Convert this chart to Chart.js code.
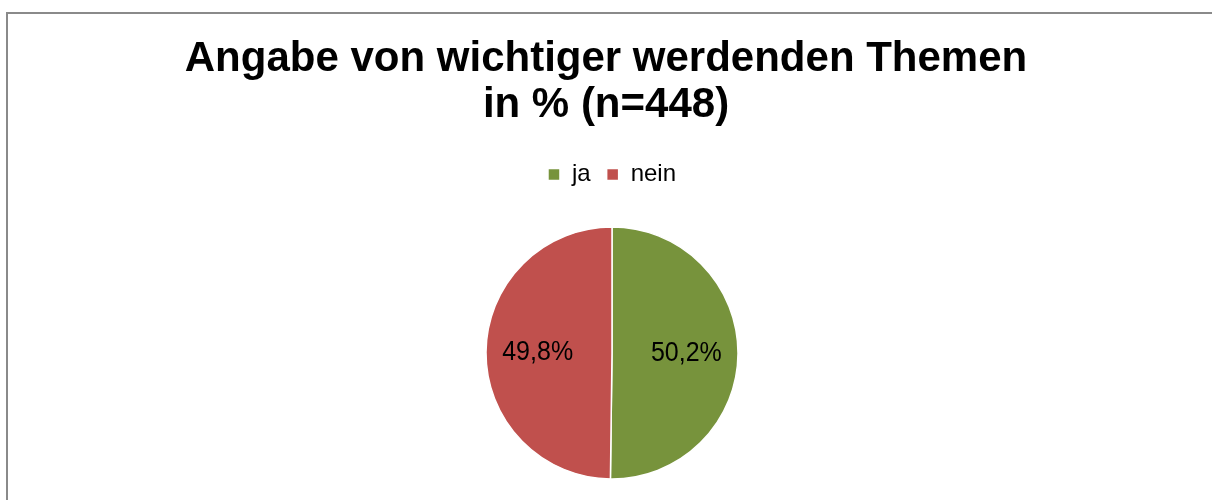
<!DOCTYPE html>
<html>
<head>
<meta charset="utf-8">
<script src="https://cdn.jsdelivr.net/npm/chart.js@4/dist/chart.umd.min.js"></script>
<style>
html,body{margin:0;padding:0;background:#fff;}
#wrap{position:relative;width:1212px;height:500px;}
</style>
</head>
<body>
<div id="wrap"><canvas id="c" width="1212" height="500"></canvas></div>
<script>
const titleLines = ["Angabe von wichtiger werdenden Themen", "in % (n=448)"];
const categories = ["ja", "nein"];
const values = [50.2, 49.8];
const colors = ["#77933C", "#C0504D"];

const FONT = "'Liberation Sans', Arial, sans-serif";

const framePlugin = {
  id: 'frame',
  beforeDraw(chart) {
    const ctx = chart.ctx;
    ctx.save();
    ctx.fillStyle = '#ffffff';
    ctx.fillRect(0, 0, chart.width, chart.height);
    ctx.strokeStyle = '#8a8a8a';
    ctx.lineWidth = 2;
    ctx.beginPath();
    ctx.moveTo(7, chart.height + 2);
    ctx.lineTo(7, 13);
    ctx.lineTo(chart.width + 2, 13);
    ctx.stroke();
    ctx.restore();
  }
};

// shift plot area and legend to the reference placement
const placePlugin = {
  id: 'place',
  afterLayout(chart) {
    const ca = chart.chartArea;
    const cx = 612, cy = 353, half = 132;
    ca.left = cx - half; ca.right = cx + half;
    ca.top = cy - half; ca.bottom = cy + half;
    ca.width = 2 * half; ca.height = 2 * half;
    if (chart.legend) {
      chart.legend.left += 6;
      chart.legend.right += 6;
    }
  }
};

const labelPlugin = {
  id: 'sliceLabels',
  afterDatasetsDraw(chart) {
    const ctx = chart.ctx;
    const meta = chart.getDatasetMeta(0);
    meta.data.forEach((arc, i) => {
      const p = arc.getProps(['x', 'y', 'startAngle', 'endAngle', 'outerRadius'], true);
      const a = (p.startAngle + p.endAngle) / 2;
      const r = p.outerRadius * 0.59;
      const txt = values[i].toFixed(1).replace('.', ',') + '%';
      ctx.save();
      ctx.translate(p.x + Math.cos(a) * r, p.y + Math.sin(a) * r);
      ctx.scale(1, 1.12);
      ctx.font = "25px " + FONT;
      ctx.fillStyle = '#000';
      ctx.textAlign = 'center';
      ctx.textBaseline = 'middle';
      ctx.fillText(txt, 0, 0);
      ctx.restore();
    });
  }
};

new Chart(document.getElementById('c'), {
  type: 'pie',
  data: {
    labels: categories,
    datasets: [{
      data: values,
      backgroundColor: colors,
      borderColor: '#ffffff',
      borderWidth: 1.5,
      radius: 126,
      clip: false
    }]
  },
  options: {
    responsive: false,
    animation: false,
    layout: { padding: { top: 0, bottom: 6, left: 0, right: 0 } },
    plugins: {
      title: {
        display: true,
        text: titleLines,
        color: '#000',
        font: { family: FONT, size: 42, weight: 'bold', lineHeight: 1.1 },
        padding: { top: 36, bottom: 18 }
      },
      legend: {
        display: true,
        position: 'top',
        labels: {
          color: '#000',
          font: { family: FONT, size: 24 },
          boxWidth: 12,
          boxHeight: 12,
          padding: 16
        }
      },
      tooltip: { enabled: false }
    }
  },
  plugins: [framePlugin, placePlugin, labelPlugin]
});
</script>
</body>
</html>
